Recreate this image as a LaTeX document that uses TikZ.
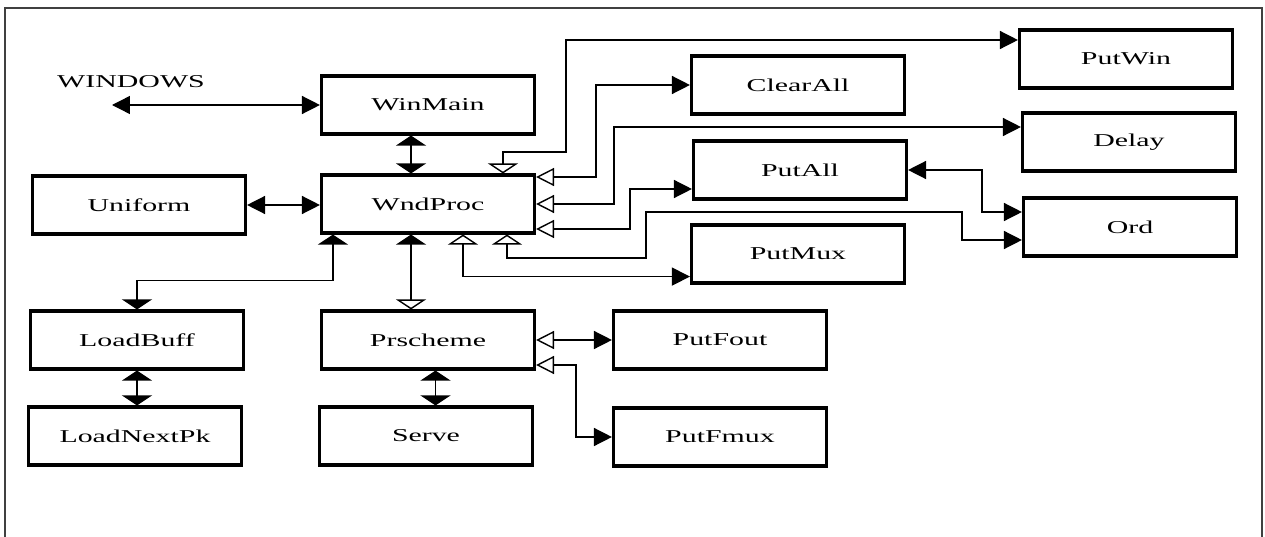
\documentclass[tikz,border=0pt]{standalone}
\usepackage{fontspec}
\setmainfont{Liberation Serif}[FakeStretch=1.65]
\usetikzlibrary{arrows.meta}

\begin{document}
\begin{tikzpicture}
    [x=0.02cm, y=-0.02cm, line width=0.8pt,
    >={Triangle[length=0.36cm,width=0.36cm]},
    hol/.tip={Triangle[open,length=0.36cm,width=0.36cm]},
    vt/.tip={Triangle[length=0.2cm,width=0.6cm]},
    vhol/.tip={Triangle[open,length=0.2cm,width=0.6cm]},
    box/.style={draw,line width=1.8pt,minimum width=4.26cm,minimum height=1.16cm,
        font=\fontsize{10.3}{12}\selectfont}]

    \useasboundingbox (0,0) rectangle (1265,537);
    \draw[black!75] (5,537) -- (5,8) -- (1262,8) -- (1262,537);

    \node[font=\fontsize{10.3}{12}\selectfont] (W) at (131,82) {WINDOWS};
    \coordinate (WE) at (112,105);

    \begin{scope}[every node/.style={box}]
    \node (WM) at (428,105) {WinMain};
    \node (WP) at (428,204) {WndProc};
    \node (U) at (139,205) {Uniform};
    \node (PW) at (1126,59) {PutWin};
    \node (CA) at (798,85) {ClearAll};
    \node (D) at (1129,142) {Delay};
    \node (PA) at (800,170) {PutAll};
    \node (O) at (1130,227) {Ord};
    \node (PM) at (798,254) {PutMux};
    \node (LB) at (137,340) {LoadBuff};
    \node (PS) at (428,340) {Prscheme};
    \node (PF) at (720,340) {PutFout};
    \node (LN) at (135,436) {LoadNextPk};
    \node (S) at (426,436) {Serve};
    \node (PX) at (720,437) {PutFmux};
    \end{scope}

    \draw[<->] (WE) -- (WM.west);
    \draw[vt-vt] ([xshift=-0.34cm]WM.south) -- ([xshift=-0.34cm]WP.north);
    \draw[<->] (U.east) -- (U.east -| WP.west);
    \draw[vt-vt] ([xshift=0.26cm]WP.south west) -- ++(0,46) -| (LB.north);
    \draw[vt-vhol] ([xshift=-0.34cm]WP.south) -- ([xshift=-0.34cm]PS.north);
    \draw[vhol->] ([xshift=0.7cm]WP.south) |- ([yshift=0.16cm]PM.south west);
    \draw[vhol->] ([xshift=1.58cm]WP.south) |- (646,258) |- (962,212) |- ([yshift=-0.26cm]O.west);
    \draw[<->] (PA.east) -- ++(74,0) |- ([yshift=0.3cm]O.west);
    \draw[hol->] ([yshift=-0.5cm]WP.east) -- ++(94,0) |- ([yshift=-0.38cm]PA.west);
    \draw[hol->] (WP.east) -- ++(78,0) |- ([yshift=0.3cm]D.west);
    \draw[hol->] ([yshift=0.54cm]WP.east) -- ++(60,0) |- (CA.west);
    \draw[vhol->] ([xshift=1.5cm]WP.north) |- (566,152) |- ([yshift=0.38cm]PW.west);
    \draw[hol->] (PS.east) -- (PS.east -| PF.west);
    \draw[hol->] ([yshift=-0.5cm]PS.east) -- ++(40,0) |- (PX.west);
    \draw[vt-vt] (LB.south) -- (LB.south |- LN.north);
    \draw[vt-vt] ([xshift=0.15cm]PS.south) -- ([xshift=0.15cm]PS.south |- S.north);

\end{tikzpicture}
\end{document}
